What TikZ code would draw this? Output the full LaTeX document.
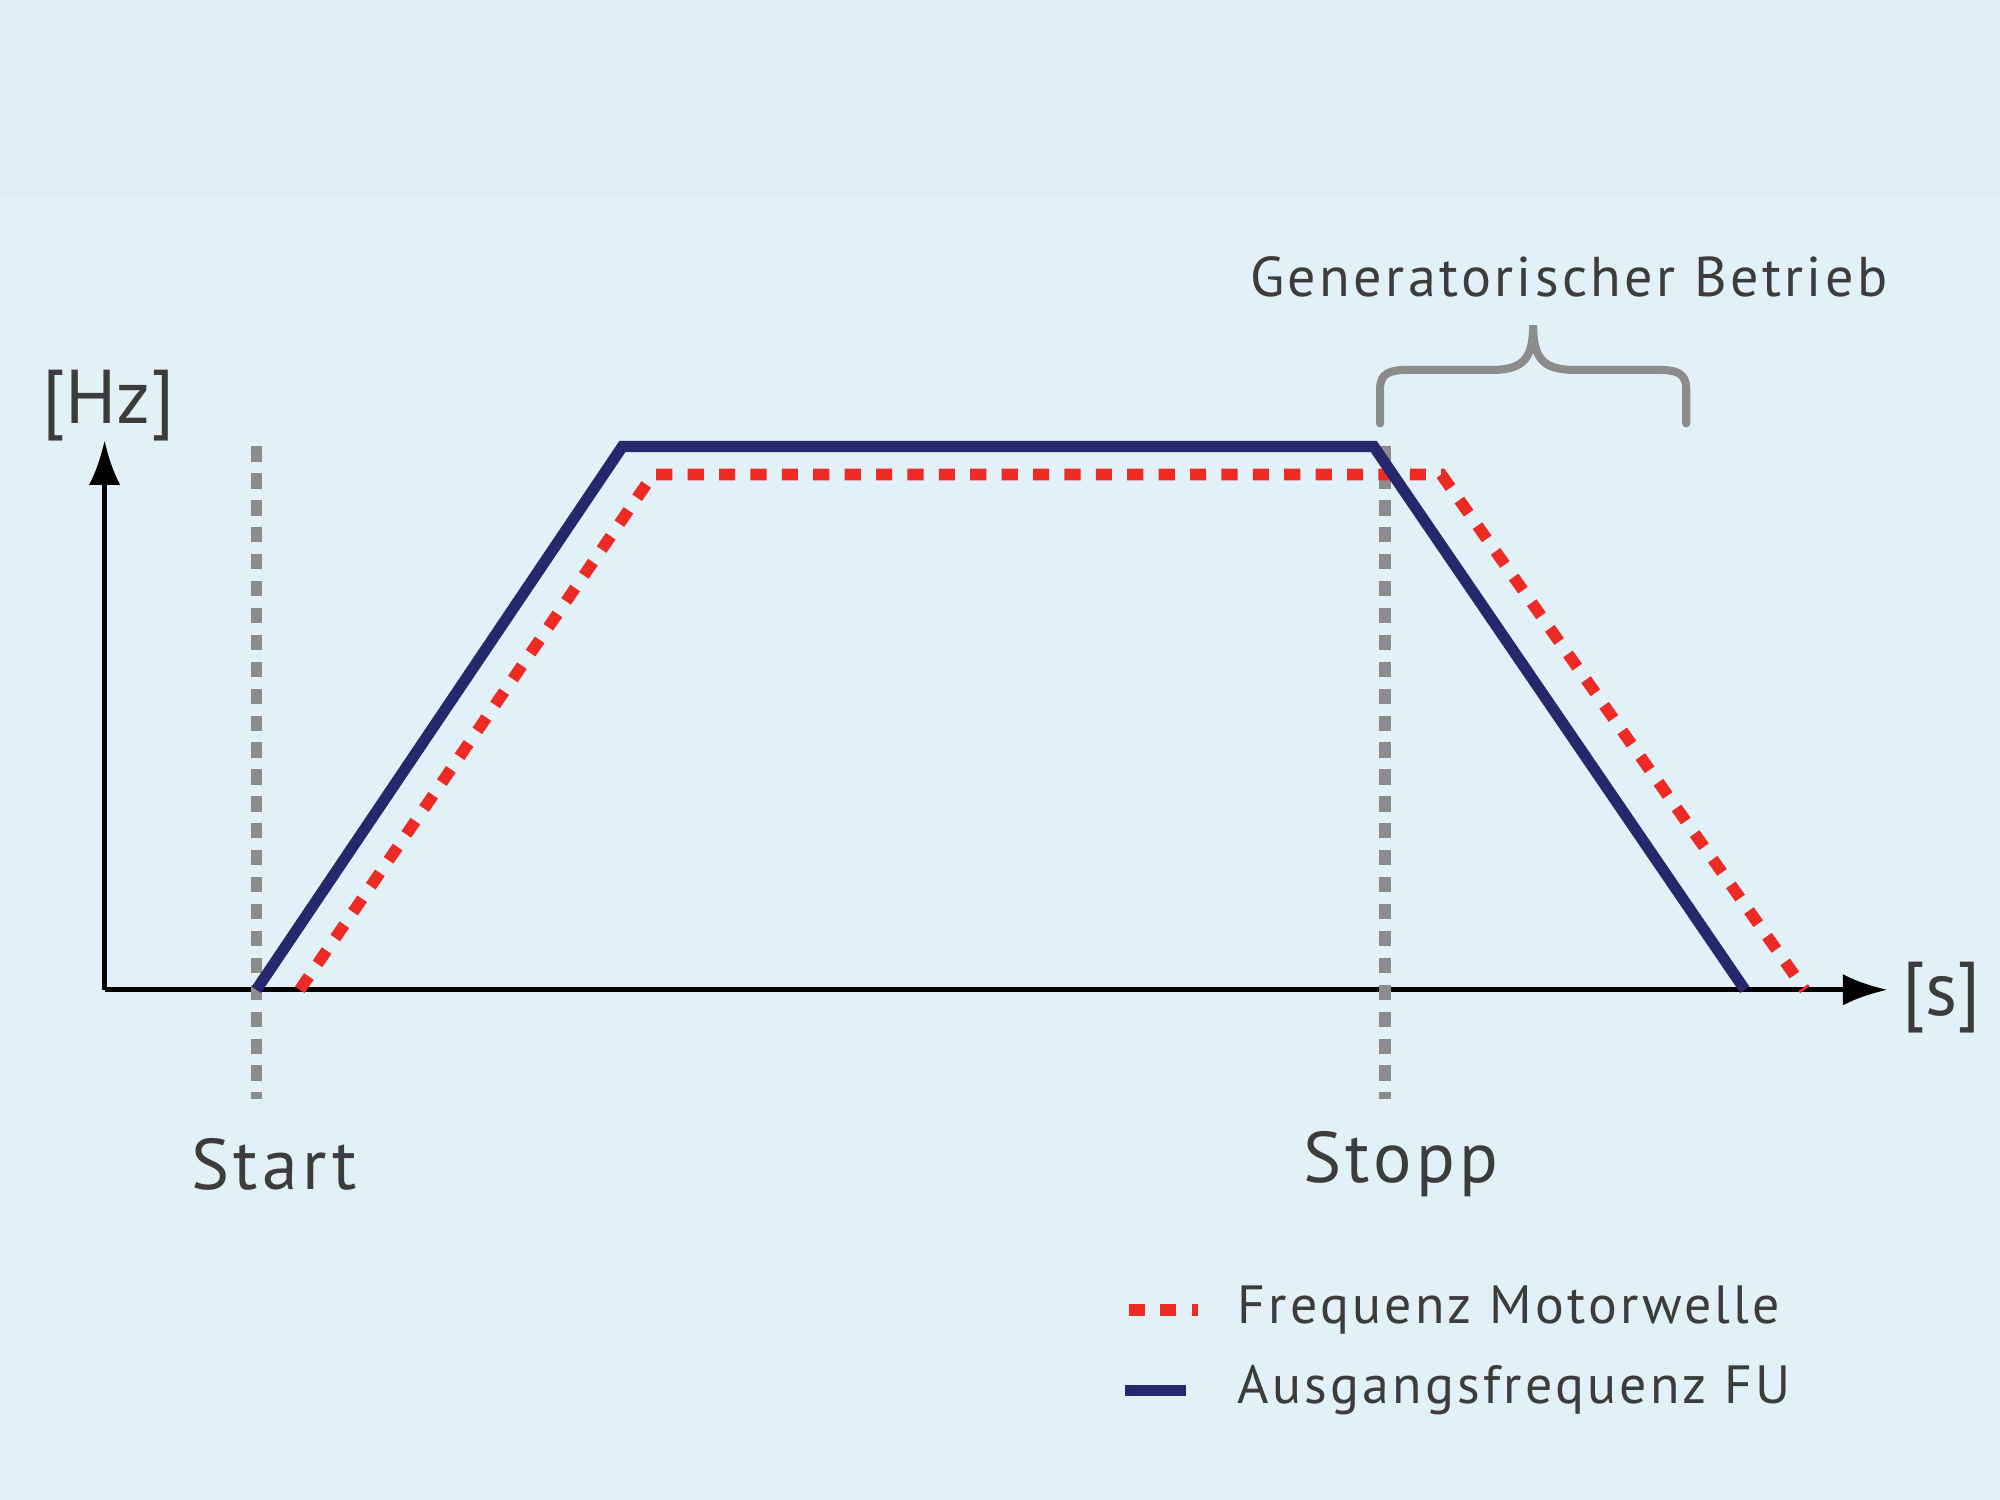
\documentclass[tikz,border=0pt]{standalone}
\usepackage{fontspec}
\setmainfont{PT Sans}
\usetikzlibrary{arrows.meta,positioning}
\definecolor{bgblue}{HTML}{E2F1F8}
\definecolor{bgtop}{HTML}{DDEEF5}
\definecolor{fublue}{HTML}{27276E}
\definecolor{motred}{HTML}{EE2A24}
\definecolor{markgray}{HTML}{8C8C8C}
\definecolor{txtgray}{HTML}{3C3C3C}
\begin{document}
\begin{tikzpicture}[x=0.01cm,y=-0.01cm,
	axis/.style   = {line width=1.2pt, -{Latex[length=10pt,width=7pt]}},
	fuline/.style = {draw=fublue, line width=2.5pt, line join=miter},
	motline/.style= {draw=motred, line width=2.6pt, dash pattern=on 3.6pt off 3.4pt},
	marker/.style = {draw=markgray, line width=2.6pt, dash pattern=on 3.4pt off 2.6pt},
	lbl/.style    = {text=txtgray, font=\fontsize{16}{19}\selectfont\addfontfeature{LetterSpace=6}},
	leg/.style    = {text=txtgray, font=\fontsize{12}{15}\selectfont\addfontfeature{LetterSpace=6}, anchor=west},
	>=Latex]

	% background
	\fill[bgblue] (0,0) rectangle (1568,1176);
	\fill[bgtop] (0,0) rectangle (1568,155);
	\useasboundingbox (0,0) rectangle (1568,1176);

	% axes
	\coordinate (o) at (82,776);
	\draw[axis] (o) -- (82,345) coordinate (ytip);
	\draw[axis] (o) -- (1480,776) coordinate (xtip);
	\node[lbl, font=\fontsize{17}{20}\selectfont] (hz) at (85,318) {[Hz]};
	\node[lbl, font=\fontsize{17}{20}\selectfont] (sec) at (1522,782) {[s]};

	% start / stop markers
	\draw[marker] (201,350) coordinate (st1) -- (201,862) coordinate (st2);
	\draw[marker] (1086,350) coordinate (sp1) -- (1086,862) coordinate (sp2);
	\node[lbl] (start) at (215,913) {Start};
	\node[lbl] (stopp) at (1098,913) {Stopp};

	% curves
	\draw[motline] (235,776) -- (512,372) -- (1130,372) -- (1415,776);
	\draw[fuline] (201,776) -- (488,350) -- (1077,350) -- (1368,776);

	% brace
	\draw[markgray, line width=1.8pt, line cap=round]
		(1082,332) coordinate (b1) -- (1082,305) .. controls (1082,292) and (1090,290) .. (1105,290)
		-- (1170,290) .. controls (1195,290) and (1202,280) .. (1202,255) coordinate (btip)
		.. controls (1202,280) and (1209,290) .. (1234,290) -- (1299,290)
		.. controls (1314,290) and (1322,292) .. (1322,305) -- (1322,332) coordinate (b2);
	\node[lbl, font=\fontsize{12.5}{15}\selectfont\addfontfeature{LetterSpace=6}] (gen) at (1230,217) {Generatorischer Betrieb};

	% legend
	\draw[motline] (885,1027) coordinate (l1) -- (939,1027) coordinate (l2);
	\node[leg] (legmot) at (958,1027) {Frequenz Motorwelle};
	\draw[fuline] (882,1090) coordinate (l3) -- (930,1090) coordinate (l4);
	\node[leg] (legfu) at (958,1090) {Ausgangsfrequenz FU};
\end{tikzpicture}
\end{document}
